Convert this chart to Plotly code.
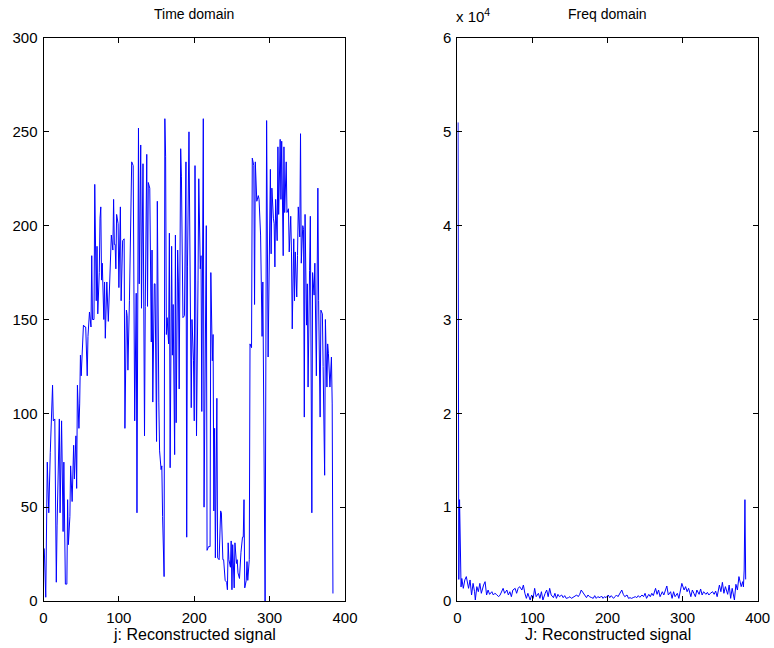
import plotly.graph_objects as go

# ---------------- data ----------------
time_j = [1,3,5,7,9,10,12,13,15,17,18,21,22,24,26,27,29,31,32,33,35,36,38,40,41,43,44,45,47,48,
          49,50,52,53,55,56,58,59,61,63,64,65,67,68,70,71,72,74,75,76,77,78,80,81,82,84,86,87,89,90,
          92,93,94,
          95,96,97,99,100,102,103,105,107,108,110,111,112,114,116,117,119,120,121,123,
          124,126,127,129,130,132,134,135,137,138,139,141,142,143,144,145,147,148,150,151,
          153,154,156,157,158,160,161,162,163,164,166,167,168,170,171,172,174,175,176,178,
          179,180,182,183,185,187,189,190,191,193,
          196,197,199,200,201,203,205,206,208,209,210,212,213,215,216,217,219,221,222,224,
          225,226,227,228,230,231,233,235,236,238,239,241,243,244,245,246,248,249,250,251,
          253,254,256,257,258,260,261,262,264,265,266,267,269,270,271,273,274,276,277,279,
          280,281,283,285,286,288,290,291,294,
          296,298,299,301,302,303,305,306,307,308,310,311,312,314,315,316,318,319,320,322,
          323,325,326,328,329,330,332,333,334,336,337,338,340,341,342,344,345,346,347,349,
          350,351,353,354,356,357,359,360,362,364,365,367,368,370,371,373,374,376,377,378,
          380,381,382,383,384]
time_val = [28,2,74,47,79,89,115,96,97,10,40,97,47,96,37,74,9,9,54,30,45,72,53,83,65,88,60,115,92,105,
            131,120,136,147,146,146,120,141,154,146,184,150,150,222,160,189,153,175,204,210,171,180,150,170,140,170,149,161,177,195,
            187,214,190,
            190,177,206,201,167,210,160,192,193,92,155,152,123,160,228,234,232,100,96,164,
            47,252,169,243,156,233,88,157,238,157,223,220,191,138,187,106,169,169,85,213,
            106,80,70,72,45,13,257,237,142,151,137,196,71,189,131,158,78,195,95,187,
            170,113,241,226,151,152,234,34,178,250,
            103,150,128,96,232,88,171,225,177,184,101,257,50,200,200,27,29,29,175,128,
            142,48,92,23,108,23,22,48,47,22,22,11,10,6,31,22,18,32,6,30,
            7,31,20,22,15,12,25,26,34,34,54,7,11,21,11,22,137,135,236,232,
            158,234,213,216,214,195,141,170,0,
            256,130,175,230,185,220,204,201,178,214,192,242,206,246,214,245,184,242,207,234,
            207,209,186,205,186,145,193,160,186,162,184,210,194,249,180,200,198,98,206,147,
            169,114,176,205,47,175,163,180,120,220,160,98,155,153,125,67,150,114,137,132,
            114,130,130,105,4]

freq_j = [1,2,3,4,5,6,8,10,12,15,17,19,21,23,24,26,28,30,32,35,37,39,41,43,46,48,50,52,55,57,
          59,61,63,66,68,70,72,74,77,79,81,83,86,88,90,92,94,97,99,101,103,105,108,110,112,114,117,119,121,123,
          125,128,130,132,134,136,139,141,143,145,148,150,152,154,156,159,161,163,165,168,170,172,174,176,179,181,183,185,187,190,
          192,194,196,198,201,203,205,208,210,212,214,217,219,221,223,226,228,230,232,235,237,239,241,243,246,248,250,252,255,257,
          259,261,264,266,268,270,273,275,277,279,281,284,286,288,290,293,295,297,299,302,304,306,308,311,313,315,317,319,322,324,
          326,328,331,333,335,337,340,342,344,346,349,351,353,355,357,360,362,364,366,369,371,373,375,378,380,381,382,383,384]
freq_val = [51000,2300,10800,3300,1500,2400,1350,2240,2600,1350,2240,640,1880,990,110,1530,990,1880,820,1700,2060,640,1170,710,990,640,820,710,460,640,
            990,1350,820,1170,640,990,460,1170,1350,820,1350,1530,1170,1700,820,280,820,110,640,280,1350,460,820,280,990,110,820,1170,460,1350,
            640,355,820,280,710,460,640,355,570,280,355,460,280,390,460,640,460,710,1170,820,570,355,640,460,355,280,570,280,460,355,
            530,280,460,355,640,355,570,280,460,640,460,990,1170,710,460,640,280,355,280,390,460,355,570,390,640,460,820,280,710,460,
            820,570,1350,710,1170,460,990,640,1065,1600,640,990,280,990,460,820,280,990,1880,1170,1530,990,1350,460,1170,820,460,1170,710,1280,
            640,990,710,920,640,820,990,710,1065,460,1700,990,1990,820,1530,710,1700,280,1350,110,1780,1170,2600,1530,2060,1500,3300,10800,2300]

x_ticks = [0, 100, 200, 300, 400]
time_y_ticks = [0, 50, 100, 150, 200, 250, 300]
freq_y_ticks = [0, 10000, 20000, 30000, 40000, 50000, 60000]
freq_y_text = ["0", "1", "2", "3", "4", "5", "6"]

# ---------------- figure ----------------
W, H = 774, 648
FONT = "Liberation Sans, Arial, Helvetica, sans-serif"
BLUE = "#0000ff"

left_dom = [43.5 / W, 345.0 / W]
right_dom = [457.3 / W, 757.7 / W]
y_dom = [1 - 601.0 / H, 1 - 38.0 / H]

fig = go.Figure()
fig.add_trace(go.Scatter(x=time_j, y=time_val, mode="lines",
                         line=dict(color=BLUE, width=1), xaxis="x", yaxis="y",
                         showlegend=False, hoverinfo="skip"))
fig.add_trace(go.Scatter(x=freq_j, y=freq_val, mode="lines",
                         line=dict(color=BLUE, width=1), xaxis="x2", yaxis="y2",
                         showlegend=False, hoverinfo="skip"))

axis_common = dict(showline=True, linecolor="black", linewidth=1, mirror="ticks",
                   ticks="inside", ticklen=5, tickcolor="black", tickwidth=1,
                   showgrid=False, zeroline=False, automargin=False,
                   tickfont=dict(family=FONT, size=15, color="black"))

fig.update_layout(
    width=W, height=H, autosize=False,
    margin=dict(l=0, r=0, t=0, b=0, pad=0, autoexpand=False),
    paper_bgcolor="white", plot_bgcolor="white",
    font=dict(family=FONT, color="black"),
    xaxis=dict(domain=left_dom, range=[0, 400], tickvals=x_ticks, anchor="y",
               ticklabelstandoff=3, **axis_common),
    yaxis=dict(domain=y_dom, range=[0, 300], tickvals=time_y_ticks, anchor="x",
               ticklabelstandoff=2, **axis_common),
    xaxis2=dict(domain=right_dom, range=[0, 400], tickvals=x_ticks, anchor="y2",
                ticklabelstandoff=3, **axis_common),
    yaxis2=dict(domain=y_dom, range=[0, 60000], tickvals=freq_y_ticks,
                ticktext=freq_y_text, anchor="x2", ticklabelstandoff=2, **axis_common),
    annotations=[
        dict(text="Time domain", x=(left_dom[0] + left_dom[1]) / 2, y=1 - 14.0 / H,
             xref="paper", yref="paper", xanchor="center", yanchor="middle",
             showarrow=False, font=dict(family=FONT, size=14, color="black")),
        dict(text="Freq domain", x=(right_dom[0] + right_dom[1]) / 2, y=1 - 14.0 / H,
             xref="paper", yref="paper", xanchor="center", yanchor="middle",
             showarrow=False, font=dict(family=FONT, size=14, color="black")),
        dict(text="x 10<sup>4</sup>", x=454.0 / W, y=1 - 27.0 / H,
             xref="paper", yref="paper", xanchor="left", yanchor="bottom",
             showarrow=False, font=dict(family=FONT, size=15, color="black")),
        dict(text="j: Reconstructed signal", x=(left_dom[0] + left_dom[1]) / 2, y=1 - 634.0 / H,
             xref="paper", yref="paper", xanchor="center", yanchor="middle",
             showarrow=False, font=dict(family=FONT, size=16, color="black")),
        dict(text="J: Reconstructed signal", x=(right_dom[0] + right_dom[1]) / 2, y=1 - 634.0 / H,
             xref="paper", yref="paper", xanchor="center", yanchor="middle",
             showarrow=False, font=dict(family=FONT, size=16, color="black")),
    ],
)

fig.write_html(
    "out.html",
    post_script="document.body.style.margin='0';document.body.style.padding='0';"
                "document.documentElement.style.margin='0';document.body.style.overflow='hidden';",
)
